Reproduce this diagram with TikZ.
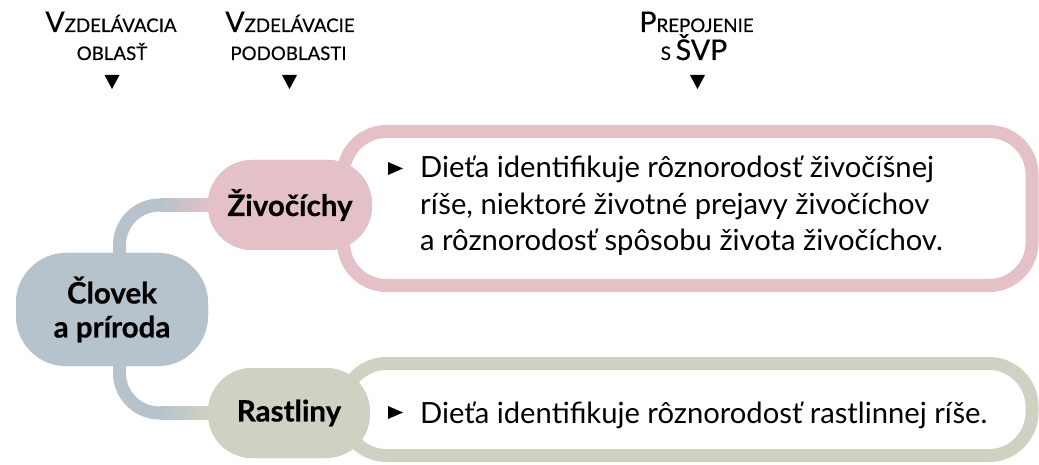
\documentclass[tikz,border=0pt]{standalone}
\usepackage{fontspec}
\setmainfont{Lato}
\newfontfamily\pillfont{Lato Bold}[FakeBold=0.6]
\newfontfamily\hdrfont{Lato}[FakeBold=0.5]
\usetikzlibrary{calc}
\definecolor{cpink}{RGB}{228,192,199}
\definecolor{cgray}{RGB}{182,195,204}
\definecolor{colive}{RGB}{208,209,194}
\newcommand\hbig[1]{{\fontsize{28.5}{30}\selectfont #1}}
\tikzset{
  pill/.style={rounded corners=44, minimum height=90, inner sep=0, align=center,
    font=\fontsize{29.5}{34}\pillfont},
  framebox/.style={draw, line width=13, rounded corners=43, inner sep=0, fill=white},
  conn/.style={line width=13, rounded corners=40},
  body/.style={anchor=base west, inner sep=0, font=\fontsize{29.2}{32}\selectfont},
  hdr/.style={anchor=base, inner sep=0, font=\fontsize{18.7}{20}\hdrfont},
}
\begin{document}
\begin{tikzpicture}[x=1pt,y=-1pt]
\useasboundingbox (0,0) rectangle (1039,465);
% headers
\node[hdr] (h1a) at (111,32) {\hbig{V}ZDELÁVACIA};
\node[hdr] (h1b) at (112,60) {OBLASŤ};
\node[hdr] (h2a) at (290,32) {\hbig{V}ZDELÁVACIE};
\node[hdr] (h2b) at (288.5,60) {PODOBLASTI};
\node[hdr] (h3a) at (696.5,32) {\hbig{P}REPOJENIE};
\node[hdr] (h3b) at (694,60) {S \hbig{ŠVP}};
\fill (104.5,75) -- (119.5,75) -- (112,89) -- cycle;
\fill (282,75) -- (297,75) -- (289.5,89) -- cycle;
\fill (690,75) -- (705,75) -- (697.5,89) -- cycle;
% frames
\node[framebox, draw=cpink, minimum width=688.5, minimum height=154] (zbox) at (687.75,208.5) {};
\node[framebox, draw=colive, minimum width=688.5, minimum height=92] (rbox) at (687.75,409.5) {};
% main nodes (placed first to define anchors)
\node[pill, fill=cgray, rounded corners=50, minimum width=192, minimum height=113] (clovek) at (112,309.5) {Človek\\a príroda};
\node[pill, fill=cpink, minimum width=164] (ziv) at (290,205) {Živočíchy};
\node[pill, fill=colive, minimum width=162] (rast) at (289,413) {Rastliny};
% connectors
\draw[conn, cgray] ([xshift=7.5]clovek.north) |- (ziv.west);
\shade[left color=cgray, right color=cpink] ($(ziv.west)+(-48,-6.5)$) rectangle ($(ziv.west)+(1,6.5)$);
\draw[conn, cgray] ([xshift=7.5]clovek.south) |- (rast.west);
\shade[left color=cgray, right color=colive] ($(rast.west)+(-48,-6.5)$) rectangle ($(rast.west)+(1,6.5)$);
% main nodes redrawn on top of connectors
\node[pill, fill=cgray, rounded corners=50, minimum width=192, minimum height=113] (clovek2) at (clovek) {Človek\\a príroda};
\node[pill, fill=cpink, minimum width=164] (ziv2) at (ziv) {Živočíchy};
\node[pill, fill=colive, minimum width=162] (rast2) at (rast) {Rastliny};
% texts
\fill (388,162) -- (403,168.5) -- (388,175) -- cycle;
\node[body] (t1) at (420,178) {Dieťa identifikuje rôznorodosť živočíšnej};
\node[body] (t2) at (420,214.5) {ríše, niektoré životné prejavy živočíchov};
\node[body] (t3) at (420,251) {a rôznorodosť spôsobu života živočíchov.};
\fill (388,406) -- (403,412.5) -- (388,419) -- cycle;
\node[body] (t4) at (420,423) {Dieťa identifikuje rôznorodosť rastlinnej ríše.};
\end{tikzpicture}
\end{document}
